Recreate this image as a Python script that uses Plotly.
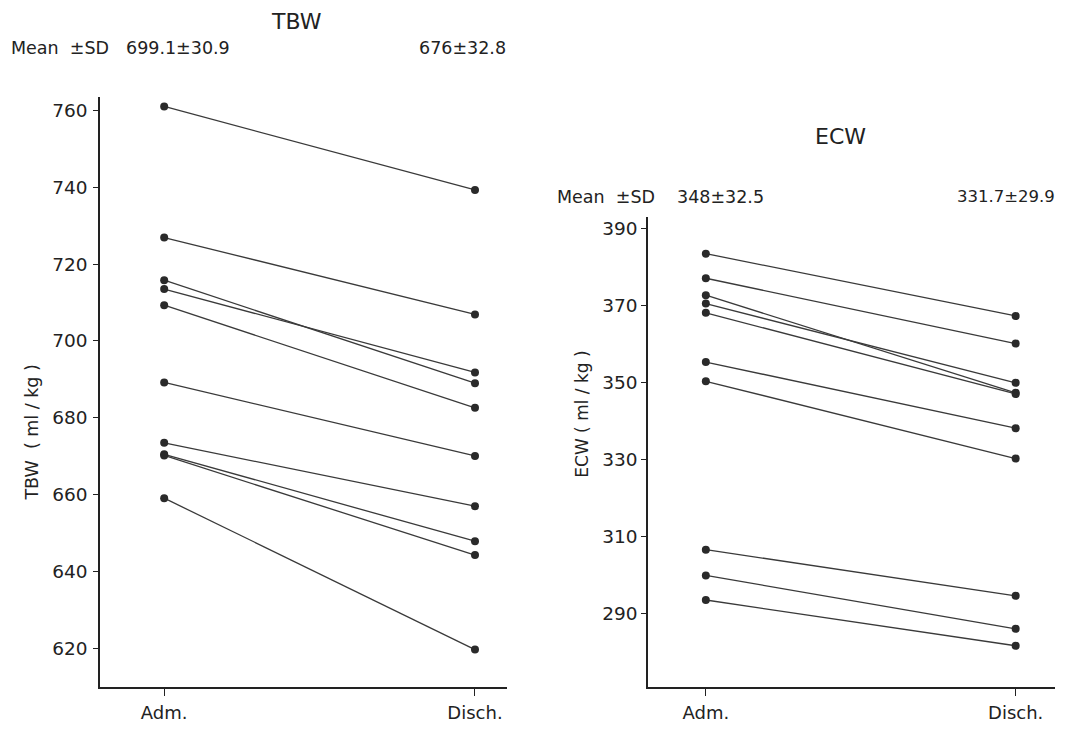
import plotly.graph_objects as go

# ---- data ----
stages = ["Adm.", "Disch."]
tbw_adm = [761.0, 726.9, 715.8, 713.5, 709.3, 689.2, 673.5, 670.5, 670.2, 659.1]
tbw_dis = [739.3, 706.9, 689.0, 691.8, 682.6, 670.1, 657.0, 647.9, 644.3, 619.7]
ecw_adm = [383.5, 377.1, 372.7, 370.5, 368.1, 355.3, 350.3, 306.5, 299.8, 293.4]
ecw_dis = [367.3, 360.1, 347.3, 349.9, 347.0, 338.1, 330.2, 294.5, 285.9, 281.5]
tbw_ticks = [620, 640, 660, 680, 700, 720, 740, 760]
ecw_ticks = [290, 310, 330, 350, 370, 390]
tbw_mean = ["699.1±30.9", "676±32.8"]
ecw_mean = ["348±32.5", "331.7±29.9"]

OFF = 8  # page body margin
W, H = 1066 - 2 * OFF, 731 - 2 * OFF
def fx(p):
    return (p - OFF) / W
def fy(p):
    return 1 - (p - OFF) / H

LINE = "#3a3a3a"
MARK = "#2a2a2a"
TXT = "#222222"
FONT = "DejaVu Sans"

fig = go.Figure()
xs = [0, 1]
for a, d in zip(tbw_adm, tbw_dis):
    fig.add_trace(go.Scatter(x=xs, y=[a, d], mode="lines+markers", xaxis="x", yaxis="y",
                             line=dict(color=LINE, width=1.3),
                             marker=dict(color=MARK, size=8), showlegend=False, hoverinfo="y"))
for a, d in zip(ecw_adm, ecw_dis):
    fig.add_trace(go.Scatter(x=xs, y=[a, d], mode="lines+markers", xaxis="x2", yaxis="y2",
                             line=dict(color=LINE, width=1.3),
                             marker=dict(color=MARK, size=8), showlegend=False, hoverinfo="y"))

axis_common = dict(showline=True, linecolor="#222", linewidth=1.5, showgrid=False, zeroline=False,
                   ticks="outside", tickcolor="#222", tickwidth=1.3,
                   tickfont=dict(family=FONT, size=18.5, color=TXT))

fig.update_layout(
    width=W, height=H, margin=dict(l=0, r=0, t=0, b=0),
    paper_bgcolor="white", plot_bgcolor="white",
    xaxis=dict(axis_common, domain=[fx(100), fx(507)], range=[-0.2065, 1.103],
               tickvals=xs, ticktext=stages, ticklen=7, anchor="y", ticklabelstandoff=2,
               tickfont=dict(family=FONT, size=18, color=TXT)),
    yaxis=dict(axis_common, domain=[fy(690.7), fy(97)], range=[610.0, 763.6],
               tickvals=tbw_ticks, ticklen=5, anchor="x", ticklabelstandoff=2),
    xaxis2=dict(axis_common, domain=[fx(648), fx(1055)], range=[-0.1867, 1.127],
                tickvals=xs, ticktext=stages, ticklen=7, anchor="y2", ticklabelstandoff=2,
                tickfont=dict(family=FONT, size=18, color=TXT)),
    yaxis2=dict(axis_common, domain=[fy(690.7), fy(218.3)], range=[270.8, 393.0],
                tickvals=ecw_ticks, ticklen=5, anchor="x2"),
)

def ann(text, x, y, size=17.5, xanchor="center", angle=0):
    fig.add_annotation(text=text, x=fx(x), y=fy(y), xref="paper", yref="paper",
                       xanchor=xanchor, yanchor="middle", showarrow=False, textangle=angle,
                       font=dict(family=FONT, size=size, color=TXT))

ann("TBW", 296, 22, size=22)
ann("Mean  ±SD", 9, 48, xanchor="left")
ann(tbw_mean[0], 178, 48)
ann(tbw_mean[1], 462, 48)
ann("TBW  ( ml / kg )", 32, 435, size=17.5, angle=-90)

ann("ECW", 840, 137, size=22)
ann("Mean  ±SD", 555, 198, xanchor="left")
ann(ecw_mean[0], 720, 198)
ann(ecw_mean[1], 1057, 198, size=16.5, xanchor="right")
ann("ECW ( ml / kg )", 582, 417, size=17, angle=-90)

fig.write_html("out.html")
